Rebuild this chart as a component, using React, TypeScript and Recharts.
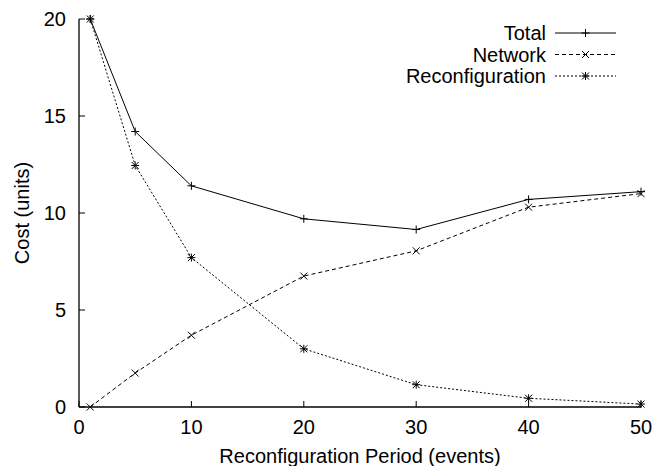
import React from 'react';
import { LineChart, Line, XAxis, YAxis, Legend, Label } from 'recharts';

const periods = [1, 5, 10, 20, 30, 40, 50];
const totalCost = [20, 14.2, 11.4, 9.7, 9.15, 10.7, 11.1];
const networkCost = [0, 1.75, 3.7, 6.75, 8.05, 10.3, 11.0];
const reconfigCost = [20, 12.45, 7.7, 3.0, 1.15, 0.45, 0.15];
const xTicks = [0, 10, 20, 30, 40, 50];
const yTicks = [0, 5, 10, 15, 20];
const seriesNames = ['Total', 'Network', 'Reconfiguration'];

const data = periods.map((p, i) => ({
  period: p,
  total: totalCost[i],
  network: networkCost[i],
  reconfig: reconfigCost[i],
}));

const FONT = '"Liberation Sans", Arial, Helvetica, sans-serif';
const FS = 20;
const S = 4;

const plusPath = (x: number, y: number) => `M${x - S},${y}H${x + S}M${x},${y - S}V${y + S}`;
const crossPath = (x: number, y: number) =>
  `M${x - S + 0.5},${y - S + 0.5}L${x + S - 0.5},${y + S - 0.5}M${x - S + 0.5},${y + S - 0.5}L${x + S - 0.5},${y - S + 0.5}`;
const starPath = (x: number, y: number) => plusPath(x, y) + crossPath(x, y);

const makeDot = (fn: (x: number, y: number) => string) => (props: any) => {
  const { cx, cy, index } = props;
  if (cx == null || cy == null) return <g key={`d${index}`} />;
  return <path key={`d${index}`} d={fn(cx, cy)} stroke="#000" strokeWidth={1} fill="none" />;
};

const markers = [plusPath, crossPath, starPath];
const dashes = ['', '4 3', '2 2'];

const LegendContent = () => (
  <svg width={260} height={70} style={{ display: 'block', overflow: 'visible' }}>
    {seriesNames.map((name, i) => {
      const y = 11 + i * 21.5;
      return (
        <g key={name}>
          <text x={166} y={y} dy="0.35em" textAnchor="end" fontSize={FS} fontFamily={FONT} fill="#000">
            {name}
          </text>
          <line x1={175} x2={236} y1={y} y2={y} stroke="#000" strokeWidth={1} strokeDasharray={dashes[i] || undefined} />
          <path d={markers[i](205.5, y)} stroke="#000" strokeWidth={1} fill="none" />
        </g>
      );
    })}
  </svg>
);

const tickStyle = { fontSize: FS, fontFamily: FONT, fill: '#000' };

export default function App() {
  return (
    <div style={{ position: 'absolute', left: 0, top: 0, width: 668, height: 466, background: '#fff' }}>
      <LineChart width={668} height={466} data={data} margin={{ top: 19, right: 27, bottom: 29, left: 19 }}>
        <XAxis
          xAxisId="b"
          dataKey="period"
          type="number"
          domain={[0, 50]}
          ticks={xTicks}
          orientation="bottom"
          height={30}
          stroke="#000"
          tickSize={-6}
          tickMargin={19}
          tick={tickStyle}
          axisLine={{ stroke: '#000', strokeWidth: 1.3 }}
          tickLine={{ stroke: '#000' }}
        >
          <Label
            content={(p: any) => {
              const vb = p.viewBox || {};
              return (
                <text x={vb.x + vb.width / 2} y={456} dy="0.35em" textAnchor="middle" fontSize={FS} fontFamily={FONT} fill="#000">
                  Reconfiguration Period (events)
                </text>
              );
            }}
          />
        </XAxis>
        <XAxis
          xAxisId="t"
          dataKey="period"
          type="number"
          domain={[0, 50]}
          ticks={xTicks}
          orientation="top"
          height={0}
          tickSize={-6}
          tick={false}
          axisLine={{ stroke: '#000', strokeWidth: 1.3 }}
          tickLine={{ stroke: '#000' }}
        />
        <YAxis
          yAxisId="l"
          type="number"
          domain={[0, 20]}
          ticks={yTicks}
          width={60}
          orientation="left"
          tickSize={-6}
          tickMargin={19}
          tick={tickStyle}
          axisLine={{ stroke: '#000', strokeWidth: 1.3 }}
          tickLine={{ stroke: '#000' }}
        >
          <Label
            content={(p: any) => {
              const vb = p.viewBox || {};
              const cy = vb.y + vb.height / 2;
              return (
                <text x={22} y={cy} dy="0.35em" textAnchor="middle" fontSize={FS} fontFamily={FONT} fill="#000" transform={`rotate(-90, 22, ${cy})`}>
                  Cost (units)
                </text>
              );
            }}
          />
        </YAxis>
        <YAxis
          yAxisId="r"
          type="number"
          domain={[0, 20]}
          ticks={yTicks}
          width={0}
          orientation="right"
          tickSize={-6}
          tick={false}
          axisLine={{ stroke: '#000', strokeWidth: 1.3 }}
          tickLine={{ stroke: '#000' }}
        />
        <Legend
          layout="horizontal"
          verticalAlign="middle"
          align="center"
          content={() => <LegendContent />}
          wrapperStyle={{ position: 'absolute', top: 22, left: 380, right: 'auto', bottom: 'auto', width: 260, height: 70 }}
        />
        <Line xAxisId="b" yAxisId="l" dataKey="total" name={seriesNames[0]} stroke="#000" strokeWidth={1} dot={makeDot(plusPath)} activeDot={false} isAnimationActive={false} />
        <Line xAxisId="b" yAxisId="l" dataKey="network" name={seriesNames[1]} stroke="#000" strokeWidth={1} strokeDasharray="4 3" dot={makeDot(crossPath)} activeDot={false} isAnimationActive={false} />
        <Line xAxisId="b" yAxisId="l" dataKey="reconfig" name={seriesNames[2]} stroke="#000" strokeWidth={1} strokeDasharray="2 2" dot={makeDot(starPath)} activeDot={false} isAnimationActive={false} />
      </LineChart>
    </div>
  );
}
